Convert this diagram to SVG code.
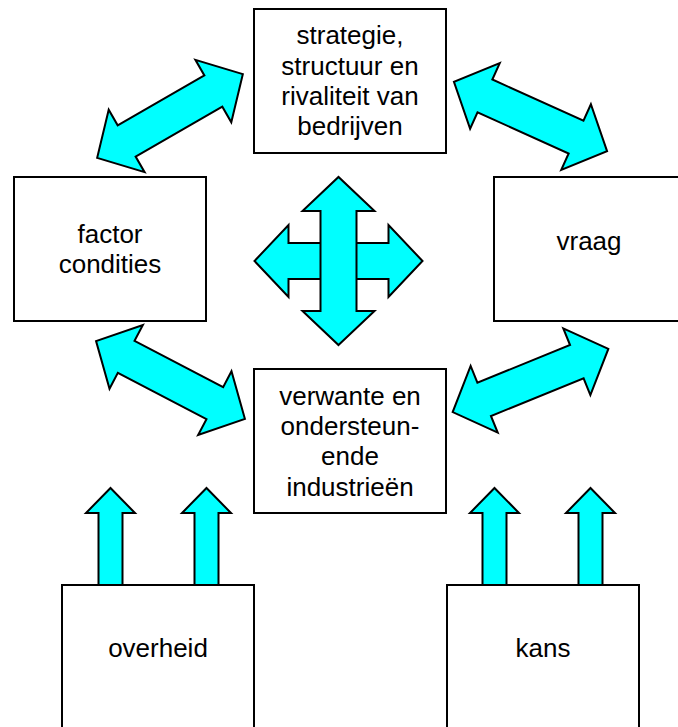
<svg xmlns="http://www.w3.org/2000/svg" xmlns:xlink="http://www.w3.org/1999/xlink" width="678" height="727" viewBox="0 0 678 727">
<style>
.box{fill:#fff;stroke:#000;stroke-width:2}
.arr{fill:#00FFFF;stroke:#000;stroke-width:2;stroke-linejoin:miter}
.t{font-family:"Liberation Sans",Arial,sans-serif;font-size:26px;fill:#000;text-anchor:middle}
</style>
<defs>
<path id="dbl" d="M84,0 L50,-36 L50,-18 L-50,-18 L-50,-36 L-84,0 L-50,36 L-50,18 L50,18 L50,36 Z"/>
<path id="up" d="M0,0 L24.5,25 L12,25 L12,97 L-12,97 L-12,25 L-24.5,25 Z"/>
</defs>
<rect width="678" height="727" fill="#fff"/>
<g id="connectors">
<use xlink:href="#dbl" class="arr" transform="translate(170,116) rotate(-29.9)"/>
<use xlink:href="#dbl" class="arr" transform="translate(530.5,116.5) rotate(24.3)"/>
<use xlink:href="#dbl" class="arr" transform="translate(170.5,380) rotate(27.6)"/>
<use xlink:href="#dbl" class="arr" transform="translate(530.5,380.5) rotate(-22.1)"/>
<use xlink:href="#dbl" class="arr" transform="translate(338.5,261)"/>
<use xlink:href="#dbl" class="arr" transform="translate(338.5,261) rotate(90)"/>
<use xlink:href="#up" class="arr" transform="translate(110.5,488)"/>
<use xlink:href="#up" class="arr" transform="translate(206.5,488)"/>
<use xlink:href="#up" class="arr" transform="translate(494.5,488)"/>
<use xlink:href="#up" class="arr" transform="translate(590.5,488)"/>
</g>
<g id="strategie">
<rect class="box" x="254" y="9" width="192" height="144"/>
<text class="t" x="350" y="44">strategie,</text>
<text class="t" x="350" y="74.5">structuur en</text>
<text class="t" x="350" y="105">rivaliteit van</text>
<text class="t" x="350" y="135">bedrijven</text>
</g>
<g id="factor">
<rect class="box" x="14" y="177" width="192" height="144"/>
<text class="t" x="110" y="243">factor</text>
<text class="t" x="110" y="273">condities</text>
</g>
<g id="vraag">
<rect class="box" x="494" y="177" width="192" height="144"/>
<text class="t" x="589" y="250">vraag</text>
</g>
<g id="verwante">
<rect class="box" x="254" y="369" width="192" height="144"/>
<text class="t" x="350" y="404.5">verwante en</text>
<text class="t" x="350" y="434.5">ondersteun-</text>
<text class="t" x="350" y="464.5">ende</text>
<text class="t" x="350" y="495.5">industrieën</text>
</g>
<g id="overheid">
<rect class="box" x="62" y="585" width="192" height="160"/>
<text class="t" x="158" y="657">overheid</text>
</g>
<g id="kans">
<rect class="box" x="447" y="585" width="192" height="160"/>
<text class="t" x="543" y="657">kans</text>
</g>
</svg>
